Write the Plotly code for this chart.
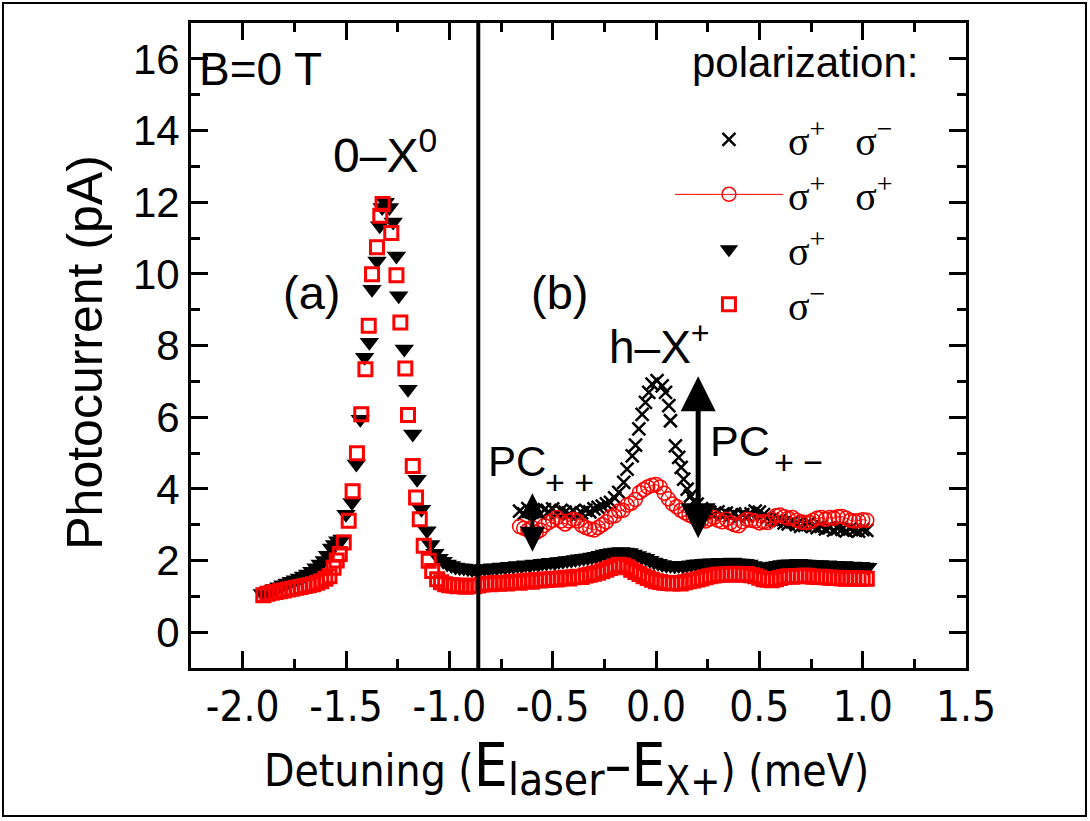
import plotly.graph_objects as go

# ---------------- data (detuning in meV, photocurrent in pA) ----------------
# sigma- excitation (open red squares)
sm_x = [-1.900, -1.880, -1.860, -1.840, -1.820, -1.800, -1.780, -1.760, -1.740, -1.720,
        -1.700, -1.680, -1.660, -1.640, -1.620, -1.600, -1.580, -1.560, -1.545, -1.530,
        -1.511, -1.487, -1.468, -1.447, -1.426, -1.406, -1.390, -1.374, -1.350, -1.334,
        -1.323, -1.281, -1.256, -1.237, -1.213, -1.200, -1.177, -1.161, -1.143, -1.124,
        -1.100, -1.083, -1.059, -1.040, -1.020, -1.000, -0.980, -0.960, -0.940, -0.920,
        -0.900, -0.880, -0.860, -0.840, -0.820, -0.800, -0.780, -0.760, -0.740, -0.720,
        -0.700, -0.680, -0.660, -0.640, -0.620, -0.600, -0.580, -0.560, -0.540, -0.520,
        -0.500, -0.480, -0.460, -0.440, -0.420, -0.400, -0.380, -0.360, -0.340, -0.320,
        -0.300, -0.280, -0.260, -0.240, -0.220, -0.200, -0.180, -0.160, -0.140, -0.120,
        -0.100, -0.080, -0.060, -0.040, -0.020, 0.000, 0.020, 0.040, 0.060, 0.080,
        0.100, 0.120, 0.140, 0.160, 0.180, 0.200, 0.220, 0.240, 0.260, 0.280,
        0.300, 0.320, 0.340, 0.360, 0.380, 0.400, 0.420, 0.440, 0.460, 0.480,
        0.500, 0.520, 0.540, 0.560, 0.580, 0.600, 0.620, 0.640, 0.660, 0.680,
        0.700, 0.720, 0.740, 0.760, 0.780, 0.800, 0.820, 0.840, 0.860, 0.880,
        0.900, 0.920, 0.940, 0.960, 0.980, 1.000, 1.020]
sm_y = [1.03, 1.07, 1.10, 1.12, 1.14, 1.16, 1.19, 1.21, 1.24, 1.26,
        1.29, 1.31, 1.34, 1.38, 1.42, 1.49, 1.56, 1.80, 2.00, 2.18,
        2.50, 3.11, 3.93, 4.99, 6.08, 7.34, 8.55, 9.99, 10.74, 11.62,
        11.95, 11.14, 9.96, 8.64, 7.36, 6.06, 4.64, 3.76, 3.15, 2.41,
        1.99, 1.71, 1.48, 1.39, 1.34, 1.31, 1.30, 1.28, 1.30, 1.27,
        1.29, 1.28, 1.30, 1.33, 1.35, 1.34, 1.37, 1.35, 1.38, 1.36,
        1.40, 1.41, 1.38, 1.42, 1.44, 1.41, 1.45, 1.44, 1.47, 1.46,
        1.49, 1.47, 1.50, 1.52, 1.50, 1.53, 1.55, 1.54, 1.58, 1.60,
        1.63, 1.66, 1.70, 1.74, 1.79, 1.84, 1.88, 1.86, 1.81, 1.74,
        1.68, 1.62, 1.56, 1.51, 1.46, 1.42, 1.40, 1.38, 1.37, 1.36,
        1.37, 1.36, 1.39, 1.42, 1.44, 1.47, 1.50, 1.53, 1.56, 1.58,
        1.60, 1.61, 1.60, 1.62, 1.63, 1.61, 1.60, 1.62, 1.59, 1.56,
        1.52, 1.48, 1.46, 1.45, 1.48, 1.51, 1.54, 1.56, 1.55, 1.57,
        1.56, 1.58, 1.57, 1.55, 1.54, 1.55, 1.53, 1.52, 1.51, 1.52,
        1.50, 1.49, 1.51, 1.50, 1.49, 1.50, 1.49]

# sigma+ excitation (filled black down-triangles)
sp_x = [-1.905, -1.885, -1.865, -1.845, -1.825, -1.805, -1.785, -1.765, -1.745, -1.725,
        -1.705, -1.685, -1.665, -1.645, -1.625, -1.605, -1.590, -1.570, -1.555, -1.540,
        -1.519, -1.500, -1.471, -1.450, -1.431, -1.410, -1.387, -1.374, -1.350, -1.337,
        -1.325, -1.310, -1.290, -1.272, -1.256, -1.245, -1.218, -1.200, -1.177, -1.156,
        -1.135, -1.108, -1.090, -1.070, -1.050, -1.030, -1.010, -0.990, -0.970, -0.950,
        -0.930, -0.910, -0.890, -0.870, -0.850, -0.830, -0.810, -0.790, -0.770, -0.750,
        -0.730, -0.710, -0.690, -0.670, -0.650, -0.630, -0.610, -0.590, -0.570, -0.550,
        -0.530, -0.510, -0.490, -0.470, -0.450, -0.430, -0.410, -0.390, -0.370, -0.350,
        -0.330, -0.310, -0.290, -0.270, -0.250, -0.230, -0.210, -0.190, -0.170, -0.150,
        -0.130, -0.110, -0.090, -0.070, -0.050, -0.030, -0.010, 0.010, 0.030, 0.050,
        0.070, 0.090, 0.110, 0.130, 0.150, 0.170, 0.190, 0.210, 0.230, 0.250,
        0.270, 0.290, 0.310, 0.330, 0.350, 0.370, 0.390, 0.410, 0.430, 0.450,
        0.470, 0.490, 0.510, 0.530, 0.550, 0.570, 0.590, 0.610, 0.630, 0.650,
        0.670, 0.690, 0.710, 0.730, 0.750, 0.770, 0.790, 0.810, 0.830, 0.850,
        0.870, 0.890, 0.910, 0.930, 0.950, 0.970, 0.990, 1.010, 1.025]
sp_y = [1.08, 1.12, 1.17, 1.22, 1.27, 1.32, 1.37, 1.42, 1.46, 1.51,
        1.57, 1.62, 1.70, 1.80, 1.90, 2.00, 2.15, 2.35, 2.45, 2.55,
        2.60, 3.29, 3.62, 4.69, 5.94, 7.67, 8.09, 9.57, 10.36, 11.34,
        11.85, 12.00, 11.85, 11.45, 10.50, 9.39, 7.90, 6.78, 5.53, 4.27,
        3.43, 2.83, 2.45, 2.20, 2.06, 1.98, 1.90, 1.86, 1.82, 1.80,
        1.79, 1.77, 1.75, 1.74, 1.76, 1.78, 1.77, 1.80, 1.79, 1.82,
        1.81, 1.84, 1.83, 1.86, 1.85, 1.88, 1.87, 1.90, 1.89, 1.92,
        1.93, 1.95, 1.94, 1.97, 1.98, 2.00, 2.01, 2.03, 2.05, 2.06,
        2.08, 2.10, 2.12, 2.15, 2.18, 2.20, 2.22, 2.24, 2.25, 2.24,
        2.22, 2.18, 2.14, 2.10, 2.06, 2.01, 1.96, 1.92, 1.89, 1.87,
        1.86, 1.85, 1.86, 1.85, 1.87, 1.88, 1.90, 1.91, 1.92, 1.93,
        1.94, 1.93, 1.95, 1.94, 1.95, 1.96, 1.94, 1.93, 1.92, 1.90,
        1.86, 1.82, 1.80, 1.81, 1.83, 1.85, 1.87, 1.89, 1.90, 1.91,
        1.90, 1.92, 1.91, 1.90, 1.89, 1.88, 1.89, 1.87, 1.88, 1.86,
        1.87, 1.85, 1.86, 1.84, 1.85, 1.83, 1.84, 1.82, 1.81]

# sigma+ excitation / sigma- detection (black crosses)
pm_x = [-0.660, -0.640, -0.620, -0.600, -0.580, -0.560, -0.540, -0.520, -0.500, -0.480,
        -0.460, -0.440, -0.420, -0.400, -0.380, -0.360, -0.340, -0.320, -0.300, -0.280,
        -0.260, -0.240, -0.220, -0.200, -0.180, -0.156, -0.140, -0.115, -0.099, -0.083,
        -0.067, -0.051, -0.035, -0.019, 0.005, 0.030, 0.046, 0.062, 0.070, 0.094,
        0.110, 0.122, 0.134, 0.151, 0.167, 0.183, 0.199, 0.220, 0.240, 0.260,
        0.280, 0.300, 0.320, 0.340, 0.360, 0.380, 0.400, 0.420, 0.440, 0.460,
        0.480, 0.500, 0.520, 0.540, 0.560, 0.580, 0.600, 0.620, 0.640, 0.660,
        0.680, 0.700, 0.720, 0.740, 0.760, 0.780, 0.800, 0.820, 0.840, 0.860,
        0.880, 0.900, 0.920, 0.940, 0.960, 0.980, 1.000, 1.020]
pm_y = [3.38, 3.30, 3.45, 3.35, 3.40, 3.30, 3.42, 3.36, 3.44, 3.32,
        3.40, 3.35, 3.30, 3.38, 3.28, 3.33, 3.40, 3.36, 3.44, 3.48,
        3.52, 3.58, 3.62, 3.75, 3.90, 4.18, 4.55, 4.92, 5.22, 5.67,
        6.08, 6.41, 6.69, 6.92, 7.02, 6.87, 6.69, 6.32, 5.90, 5.20,
        4.88, 4.60, 4.27, 3.99, 3.80, 3.65, 3.57, 3.45, 3.38, 3.35,
        3.30, 3.36, 3.28, 3.32, 3.25, 3.30, 3.22, 3.28, 3.24, 3.30,
        3.38, 3.35, 3.28, 3.20, 3.15, 3.10, 3.12, 3.05, 3.02, 3.08,
        3.00, 2.95, 2.98, 3.05, 2.96, 2.92, 2.95, 2.88, 2.92, 2.85,
        2.90, 2.87, 2.83, 2.88, 2.85, 2.82, 2.86, 2.84]

# sigma+ excitation / sigma+ detection (open red circles)
pp_x = [-0.660, -0.640, -0.620, -0.600, -0.580, -0.560, -0.540, -0.520, -0.500, -0.480,
        -0.460, -0.440, -0.420, -0.400, -0.380, -0.360, -0.340, -0.320, -0.300, -0.280,
        -0.260, -0.240, -0.220, -0.200, -0.180, -0.160, -0.140, -0.120, -0.100, -0.080,
        -0.060, -0.040, -0.020, 0.000, 0.020, 0.040, 0.060, 0.080, 0.100, 0.120,
        0.140, 0.160, 0.180, 0.200, 0.220, 0.240, 0.260, 0.280, 0.300, 0.320,
        0.340, 0.360, 0.380, 0.400, 0.420, 0.440, 0.460, 0.480, 0.500, 0.520,
        0.540, 0.560, 0.580, 0.600, 0.620, 0.640, 0.660, 0.680, 0.700, 0.720,
        0.740, 0.760, 0.780, 0.800, 0.820, 0.840, 0.860, 0.880, 0.900, 0.920,
        0.940, 0.960, 0.980, 1.000, 1.020]
pp_y = [2.95, 2.90, 2.85, 2.92, 2.78, 2.85, 2.98, 3.06, 3.12, 3.20,
        3.10, 3.02, 3.10, 3.15, 3.10, 2.98, 2.92, 2.88, 2.85, 2.92,
        3.00, 3.08, 3.22, 3.25, 3.38, 3.40, 3.55, 3.60, 3.70, 3.90,
        3.98, 4.05, 4.10, 4.12, 4.05, 3.88, 3.72, 3.58, 3.50, 3.40,
        3.33, 3.27, 3.22, 3.18, 3.12, 3.10, 3.16, 3.20, 3.12, 3.08,
        3.15, 3.05, 3.00, 2.97, 3.08, 3.15, 3.12, 3.10, 3.05, 3.08,
        3.06, 3.15, 3.25, 3.27, 3.22, 3.18, 3.20, 3.12, 3.08, 3.06,
        3.07, 3.12, 3.18, 3.20, 3.15, 3.20, 3.18, 3.22, 3.23, 3.18,
        3.12, 3.10, 3.11, 3.14, 3.12]

# axis ticks
x_tickvals = [-2.0, -1.5, -1.0, -0.5, 0.0, 0.5, 1.0, 1.5]
x_ticktext = ["-2.0", "-1.5", "-1.0", "-0.5", "0.0", "0.5", "1.0", "1.5"]
y_tickvals = [0, 2, 4, 6, 8, 10, 12, 14, 16]

# boundary between the (a) and (b) scans
divider_x = -0.86
# double arrows marking PC++ and PC+- (x, bottom, top)
arrow_pp = (-0.598, 2.20, 3.88)
arrow_pm = (0.204, 2.58, 7.14)

SANS = "Liberation Sans, Arial, Helvetica, sans-serif"
NARROW = ("Liberation Sans Narrow, Arial Narrow, DejaVu Sans Condensed, "
          "Noto Sans Condensed, Liberation Sans, sans-serif")
SERIF = "Liberation Serif, Times New Roman, serif"


def condensed(s):
    return "<span style='font-stretch:condensed'>" + s + "</span>"


fig = go.Figure()

fig.add_trace(go.Scatter(
    x=sp_x, y=sp_y, mode="markers", name="σ<sup>+</sup>",
    legendrank=3, legendgroup="c",
    marker=dict(symbol="triangle-down", size=17, color="black", line=dict(width=0))))
fig.add_trace(go.Scatter(
    x=sm_x, y=sm_y, mode="markers", name="σ<sup>−</sup>",
    legendrank=4, legendgroup="d",
    marker=dict(symbol="square-open", size=13, color="red",
                line=dict(width=3, color="red"))))
fig.add_trace(go.Scatter(
    x=pm_x, y=pm_y, mode="markers",
    name="σ<sup>+</sup>\u00a0\u00a0\u00a0σ<sup>−</sup>",
    legendrank=1, legendgroup="a",
    marker=dict(symbol="x-thin-open", size=13, color="black",
                line=dict(width=2.5, color="black"))))
fig.add_trace(go.Scatter(
    x=pp_x, y=pp_y, mode="lines+markers",
    name="σ<sup>+</sup>\u00a0\u00a0\u00a0σ<sup>+</sup>",
    legendrank=2, legendgroup="b",
    line=dict(color="red", width=1),
    marker=dict(symbol="circle-open", size=14, color="red",
                line=dict(width=1.5, color="red"))))

annotations = []


def label(x, y, text, size=46, xanchor="center", yanchor="middle", ref="data", font=SANS):
    d = dict(x=x, y=y, text=text, showarrow=False, xanchor=xanchor, yanchor=yanchor,
             font=dict(family=font, size=size, color="black"))
    if ref == "paper":
        d.update(xref="paper", yref="paper")
    else:
        d.update(xref="x", yref="y")
    annotations.append(d)
    return d


label(0.008, 0.929, "B=0 T", xanchor="left", ref="paper")
label(0.644, 0.938, "polarization:", size=42, xanchor="left", ref="paper")
label(-1.31, 13.4, "0–X<sup>0</sup>", size=48)
label(-1.668, 9.49, "(a)", size=47)
label(-0.467, 9.49, "(b)", size=47)
label(0.017, 8.05, "h–X<sup>+</sup>", size=46)
# PC labels with their lowered polarization indices
label(-0.822, 4.77, "PC", size=42, xanchor="left")
label(-0.545, 4.19, "+\u00a0+", size=34, xanchor="left")
label(0.254, 5.33, "PC", size=43, xanchor="left")
label(0.560, 4.75, "+\u00a0−", size=34, xanchor="left")

# axis titles
yt = label(-0.137, 0.49, "Photocurrent (pA)", size=50, ref="paper")
yt["textangle"] = -90
label(0.485, -0.155,
      condensed("Detuning (<span style='font-size:60px'>E</span>"
                "<sub><span style='font-size:44px'>laser</span></sub>"
                "<span style='font-size:60px'>–E</span>"
                "<sub><span style='font-size:40px'>X+</span></sub>) (meV)"),
      size=44, ref="paper", font=NARROW)

# double-headed arrows
for (ax_x, y0, y1), w, s in [(arrow_pp, 4, 1.25), (arrow_pm, 5, 1.4)]:
    annotations.append(dict(
        x=ax_x, y=y1, ax=ax_x, ay=y0, xref="x", yref="y", axref="x", ayref="y",
        text="", showarrow=True, arrowside="end+start",
        arrowhead=2, startarrowhead=2, arrowsize=s, startarrowsize=s,
        arrowwidth=w, arrowcolor="black"))

fig.update_layout(annotations=annotations)

fig.add_shape(type="line", xref="x", yref="paper", x0=divider_x, x1=divider_x,
              y0=0, y1=1, line=dict(color="black", width=4))
# figure border
fig.add_shape(type="rect", xref="paper", yref="paper",
              x0=-0.2426, x1=1.1548, y0=-0.2295, y1=1.031,
              line=dict(color="black", width=2))

axis_common = dict(showline=True, linewidth=3, linecolor="black", mirror="ticks",
                   ticks="inside", ticklen=17, tickwidth=3, tickcolor="black",
                   showgrid=False, zeroline=False)

fig.update_xaxes(range=[-2.25, 1.5], tickmode="array", tickvals=x_tickvals,
                 ticktext=[condensed(t) for t in x_ticktext],
                 tickfont=dict(family=NARROW, size=42, color="black"),
                 minor=dict(ticks="inside", ticklen=9, tickwidth=3, dtick=0.25,
                            tickcolor="black", showgrid=False),
                 **axis_common)
fig.update_yaxes(range=[-1, 17], tickmode="array", tickvals=y_tickvals,
                 tickfont=dict(family=SANS, size=42, color="black"),
                 minor=dict(ticks="inside", ticklen=9, tickwidth=3, dtick=1,
                            tickcolor="black", showgrid=False),
                 **axis_common)

fig.update_layout(
    width=1090, height=821,
    margin=dict(l=191, r=124, t=23, b=153),
    paper_bgcolor="white", plot_bgcolor="white",
    showlegend=True,
    legend=dict(
        x=0.618, y=0.87, xanchor="left", yanchor="top",
        bgcolor="rgba(0,0,0,0)", borderwidth=0,
        font=dict(family=SERIF, size=40, color="black"),
        itemwidth=108, tracegroupgap=0, traceorder="grouped",
    ),
)

fig.write_html("out.html")
